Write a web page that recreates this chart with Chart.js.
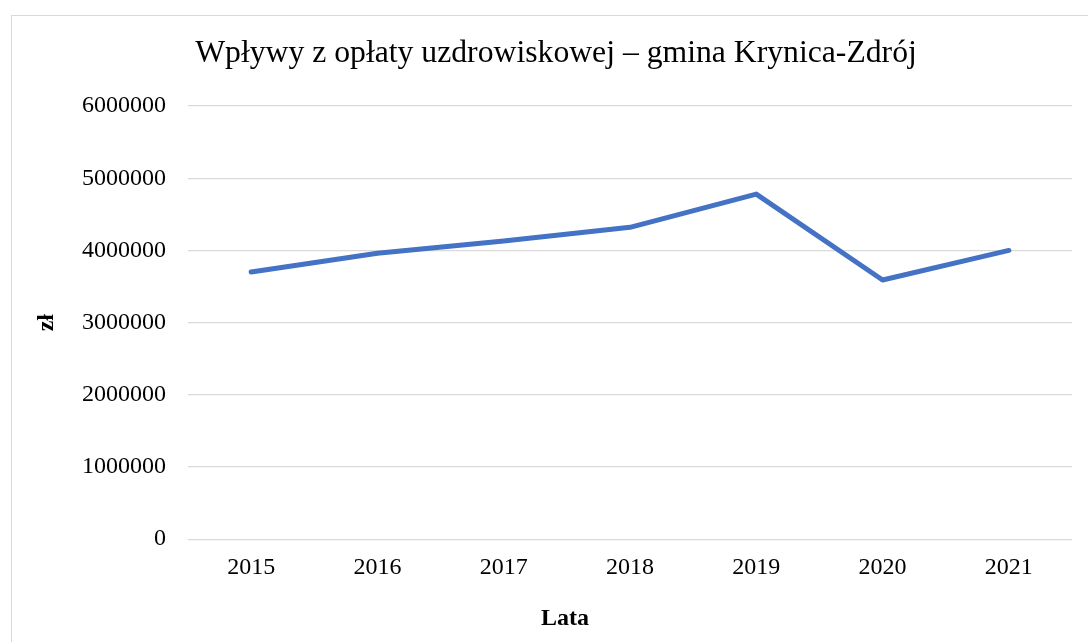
<!DOCTYPE html>
<html>
<head>
<meta charset="utf-8">
<script src="https://cdn.jsdelivr.net/npm/chart.js@4/dist/chart.umd.min.js"></script>
<style>
  html, body { margin: 0; padding: 0; background: #fff; overflow: hidden; }
  #box { position: absolute; left: 11px; top: 15px; width: 1088px; height: 640px; border: 1px solid #d9d9d9; }
  #wrap { position: absolute; left: 0; top: 0; width: 1088px; height: 626px; }
</style>
</head>
<body>
<div id="box"><div id="wrap"><canvas id="c" width="1088" height="626"></canvas></div></div>
<script>
const categories = ['2015', '2016', '2017', '2018', '2019', '2020', '2021'];
const values = [3700000, 3960000, 4130000, 4320000, 4780000, 3590000, 4000000];
const chartTitle = 'Wpływy z opłaty uzdrowiskowej – gmina Krynica-Zdrój';
const yTitle = 'zł';
const xTitle = 'Lata';

const FONT = "'Liberation Serif', 'Times New Roman', serif";

const xTitlePlugin = {
  id: 'xTitlePlugin',
  afterDraw(chart) {
    const ctx = chart.ctx;
    ctx.save();
    ctx.font = 'bold 24px ' + FONT;
    ctx.fillStyle = '#000';
    ctx.textAlign = 'center';
    ctx.textBaseline = 'middle';
    ctx.fillText(xTitle, chart.width / 2 + 9, 603);
    ctx.restore();
  }
};

new Chart(document.getElementById('c'), {
  type: 'line',
  data: {
    labels: categories,
    datasets: [{
      data: values,
      borderColor: '#4472c4',
      backgroundColor: '#4472c4',
      borderWidth: 5,
      borderCapStyle: 'round',
      borderJoinStyle: 'round',
      pointRadius: 0,
      pointHoverRadius: 0,
      tension: 0,
      fill: false
    }]
  },
  options: {
    responsive: false,
    animation: false,
    devicePixelRatio: 1,
    layout: { padding: { left: 28, right: 28, top: 0, bottom: 46 } },
    plugins: {
      legend: { display: false },
      tooltip: { enabled: false },
      title: {
        display: true,
        text: chartTitle,
        color: '#000',
        font: { family: FONT, size: 31.7, weight: 'normal' },
        padding: { top: 19, bottom: 33 }
      }
    },
    scales: {
      x: {
        offset: true,
        grid: { display: false, drawTicks: false },
        border: { display: false },
        ticks: { color: '#000', font: { family: FONT, size: 24 }, padding: 14, maxRotation: 0 }
      },
      y: {
        min: 0,
        max: 6000000,
        afterFit(scale) { scale.width = 148; },
        grid: { color: '#d9d9d9', lineWidth: 1.3, drawTicks: false },
        border: { display: false },
        ticks: {
          stepSize: 1000000, color: '#000', font: { family: FONT, size: 24 }, padding: 22,
          callback: (v) => String(v)
        },
        title: {
          display: true,
          text: yTitle,
          color: '#000',
          font: { family: FONT, size: 24, weight: 'bold' },
          padding: { top: -8, bottom: 0 }
        }
      }
    }
  },
  plugins: [xTitlePlugin]
});
</script>
</body>
</html>
